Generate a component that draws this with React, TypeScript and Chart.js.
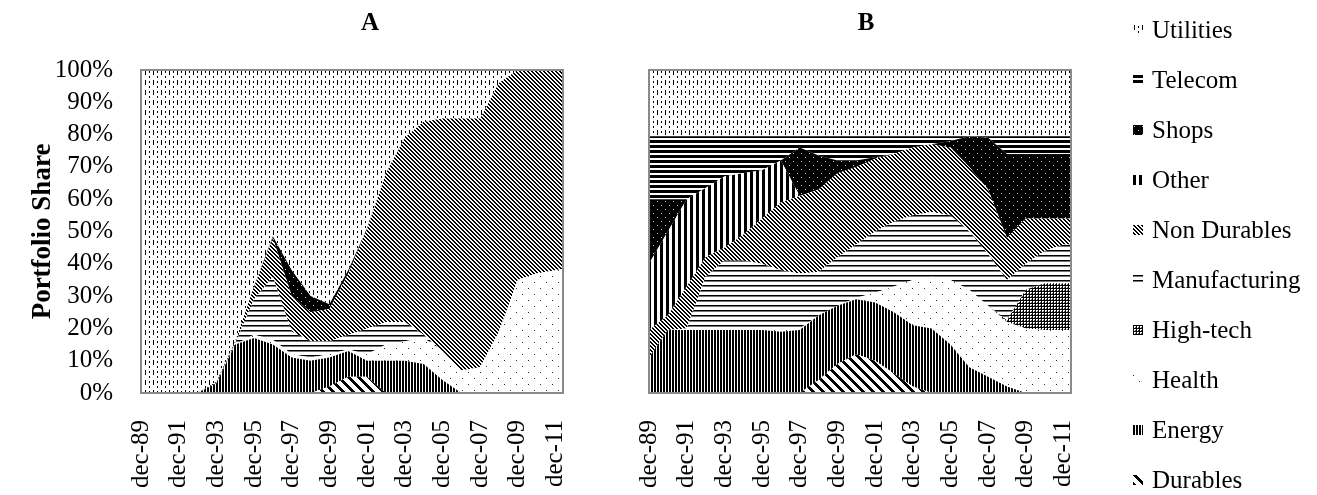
import React, { useEffect, useRef } from "react";
import { Chart, registerables } from "chart.js";
Chart.register(...registerables);

// ---------- data ----------
const tickLabels = ["dec-89", "dec-91", "dec-93", "dec-95", "dec-97", "dec-99", "dec-01", "dec-03", "dec-05", "dec-07", "dec-09", "dec-11"];
// years since Dec 1989
const years = [0, 1, 2, 3, 4, 5, 6, 7, 8, 9, 10, 11, 12, 13, 14, 15, 16, 17, 18, 19, 20, 21, 22, 22.4];

// series, bottom of the stack first
const seriesNames = ["Durables", "Energy", "Health", "High-tech", "Manufacturing", "Non Durables", "Other", "Shops", "Telecom", "Utilities"];

// Panel A
const aDurables = [0, 0, 0, 0, 0, 0, 0, 0, 0, 0, 2, 5, 5, 0, 0, 0, 0, 0, 0, 0, 0, 0, 0, 0];
const aEnergy = [0, 0, 0, 0, 3, 15, 17, 15, 11, 10, 9, 8, 5, 10, 10, 9, 4, 0, 0, 0, 0, 0, 0, 0];
const aHealth = [0, 0, 0, 0, 0, 0, 1, 1.5, 1, 1, 1, 0.5, 2, 5, 6, 8, 9, 7, 8, 19, 35, 37, 38, 38.5];
const aHighTech = [0, 0, 0, 0, 0, 0, 0, 0, 0, 0, 0, 0, 0, 0, 0, 0, 0, 0, 0, 0, 0, 0, 0, 0];
const aManufacturing = [0, 0, 0, 0, 0, 0.5, 11, 19.5, 7, 5, 4, 4.5, 8, 7, 6, 1, 0, 0, 0, 0, 0, 0, 0, 0];
const aNonDurables = [0, 0, 0, 0, 0.5, 0.5, 4, 12, 11, 9, 10, 19, 31, 46, 57, 66, 72, 78, 77, 77, 65, 63, 62, 61.5];
const aOther = [0, 0, 0, 0, 0, 0, 0, 0, 0, 0, 0, 0, 0, 0, 0, 0, 0, 0, 0, 0, 0, 0, 0, 0];
const aShops = [0, 0, 0, 0, 0, 0, 0, 0.5, 8, 5, 1.5, 1, 0, 0, 0, 0, 0, 0, 0, 0, 0, 0, 0, 0];
const aTelecom = [0, 0, 0, 0, 0, 0, 0, 0, 0, 0, 0, 0, 0, 0, 0, 0, 0, 0, 0, 0, 0, 0, 0, 0];
const aUtilities = [100, 100, 100, 100, 96.5, 84, 67, 51.5, 62, 70, 72.5, 62, 49, 32, 21, 16, 15, 15, 15, 4, 0, 0, 0, 0];

// Panel B
const bDurables = [0, 0, 0, 0, 0, 0, 0, 0, 0, 4, 9, 12, 10, 6, 2, 0, 0, 0, 0, 0, 0, 0, 0, 0];
const bEnergy = [11, 19.5, 19.5, 19.5, 19.5, 19.5, 19.5, 19, 19.5, 20, 18, 17, 18, 19, 19, 20, 15, 8, 5, 2, 0, 0, 0, 0];
const bHealth = [0, 0, 0, 0, 0, 0, 0, 0.5, 0.5, 0, 0, 0.5, 3, 8, 14, 16, 20, 24, 22, 20, 20, 19.5, 19.5, 19.5];
const bHighTech = [0, 0, 0, 0, 0, 0, 0, 0, 0, 0, 0, 0, 0, 0, 0, 0, 0, 0, 0, 0.5, 12, 14.5, 14.5, 14.5];
const bManufacturing = [0, 0, 0.5, 16.5, 21.5, 21.5, 20.5, 18.5, 17, 13.5, 15, 16.5, 19, 20, 20, 20, 20, 18, 16, 12.5, 8, 10, 12, 12];
const bNonDurables = [8.5, 4.5, 13, 6, 4, 8, 14, 21, 24, 25.5, 26, 24, 22.5, 21, 21, 21, 21, 20, 20, 13, 14, 10, 8, 8];
const bOther = [20.5, 26, 27, 21.5, 22, 19, 15, 13, 0, 0, 0, 0, 0, 0, 0, 0, 0, 0, 0, 0, 0, 0, 0, 0];
const bShops = [20, 10, 0, 0, 0, 0, 0, 0, 15, 10.5, 4, 2, 0.5, 0, 0, 0, 2, 9.5, 16, 26, 20, 20, 20, 20];
const bTelecom = [19.5, 19.5, 19.5, 16, 12.5, 11.5, 10.5, 7.5, 3.5, 6, 7.5, 7.5, 6.5, 5.5, 3.5, 2.5, 1.5, 0, 0.5, 5.5, 5.5, 5.5, 5.5, 5.5];
const bUtilities = [20.5, 20.5, 20.5, 20.5, 20.5, 20.5, 20.5, 20.5, 20.5, 20.5, 20.5, 20.5, 20.5, 20.5, 20.5, 20.5, 20.5, 20.5, 20.5, 20.5, 20.5, 20.5, 20.5, 20.5];

const panelA = [aDurables, aEnergy, aHealth, aHighTech, aManufacturing, aNonDurables, aOther, aShops, aTelecom, aUtilities];
const panelB = [bDurables, bEnergy, bHealth, bHighTech, bManufacturing, bNonDurables, bOther, bShops, bTelecom, bUtilities];

const FONT = "'Liberation Serif', 'Times New Roman', serif";

// ---------- patterns ----------
function makeTile(name: string): HTMLCanvasElement {
  const c = document.createElement("canvas");
  const sizes: Record<string, [number, number]> = {
    "Utilities": [8, 10], "Telecom": [4, 5], "Shops": [8, 8], "Other": [6, 4],
    "Non Durables": [4, 4], "Manufacturing": [4, 5], "High-tech": [3, 3],
    "Health": [12, 12], "Energy": [3, 2], "Durables": [10, 10],
  };
  const [w, h] = sizes[name];
  c.width = w; c.height = h;
  const g = c.getContext("2d")!;
  g.fillStyle = "#fff";
  g.fillRect(0, 0, w, h);
  g.fillStyle = "#000";
  const diag = (s: number, k: number) => {
    for (let y = 0; y < s; y++) for (let x = 0; x < s; x++) {
      if ((((x - y) % s) + s) % s < k) g.fillRect(x, y, 1, 1);
    }
  };
  switch (name) {
    case "Utilities":
      g.fillRect(1, 0, 1, 5);
      g.fillRect(5, 1, 1, 2); g.fillRect(5, 6, 1, 2);
      break;
    case "Telecom": g.fillRect(0, 0, 4, 3); break;
    case "Shops":
      g.fillRect(0, 0, 8, 8); g.fillStyle = "#ccc";
      g.fillRect(1, 1, 1, 1); g.fillRect(5, 5, 1, 1); break;
    case "Other": g.fillRect(0, 0, 3, 4); break;
    case "Non Durables": diag(4, 2); break;
    case "Manufacturing": g.fillRect(0, 0, 4, 1); g.fillStyle = "#777"; g.fillRect(0, 1, 4, 1); break;
    case "High-tech": g.fillRect(0, 0, 3, 1); g.fillRect(0, 0, 1, 3); g.fillStyle = "#555"; g.fillRect(2, 2, 1, 1); break;
    case "Health": g.fillStyle = "#333"; g.fillRect(0, 0, 1, 1); g.fillRect(6, 6, 1, 1); break;
    case "Energy": g.fillRect(0, 0, 2, 2); break;
    case "Durables": diag(10, 4); break;
  }
  return c;
}

function pattern(ctx: CanvasRenderingContext2D, name: string): CanvasPattern {
  return ctx.createPattern(makeTile(name), "repeat")!;
}

const framePlugin = {
  id: "frame",
  afterDatasetsDraw(chart: any) {
    const { ctx, chartArea } = chart;
    ctx.save();
    ctx.strokeStyle = "#8a8a8a";
    ctx.lineWidth = 2;
    ctx.strokeRect(chartArea.left, chartArea.top, chartArea.right - chartArea.left, chartArea.bottom - chartArea.top);
    ctx.restore();
  },
};

function buildConfig(ctx: CanvasRenderingContext2D, values: number[][], showY: boolean, padLeft: number, padRight: number): any {
  const datasets = seriesNames.map((name, i) => ({
    label: name,
    data: years.map((x, k) => ({ x, y: values[i][k] })),
    backgroundColor: pattern(ctx, name),
    borderColor: "rgba(0,0,0,0)",
    borderWidth: 0,
    pointRadius: 0,
    fill: i === 0 ? "origin" : "-1",
    tension: 0,
  }));
  return {
    type: "line",
    data: { datasets },
    plugins: [framePlugin],
    options: {
      responsive: false,
      animation: false,
      events: [],
      layout: { padding: { left: padLeft, right: padRight, top: 70, bottom: 0 } },
      plugins: {
        legend: { display: false },
        tooltip: { enabled: false },
        title: { display: false },
      },
      scales: {
        x: {
          type: "linear", min: 0, max: 22.4,
          grid: { display: false, drawTicks: false },
          border: { display: false },
          ticks: {
            stepSize: 2, includeBounds: false, autoSkip: false,
            minRotation: 90, maxRotation: 90, padding: 27, color: "#000",
            font: { family: FONT, size: 25 },
            callback: (v: number) => tickLabels[Math.round(v / 2)] ?? "",
          },
          afterFit: (s: any) => { s.height = 102; },
        },
        y: {
          stacked: true, min: 0, max: 100, display: showY,
          grid: { display: false, drawTicks: false },
          border: { display: false },
          ticks: {
            stepSize: 10, padding: 28, color: "#000", autoSkip: false,
            font: { family: FONT, size: 25 },
            callback: (v: number) => v + "%",
          },
          title: {
            display: true, text: "Portfolio Share", color: "#000",
            font: { family: FONT, size: 27, weight: "bold" },
            padding: { top: 27, bottom: 0 },
          },
          afterFit: (s: any) => { s.width = showY ? 141 : 0; },
        },
      },
    },
  };
}

const titleStyle = (cx: number): React.CSSProperties => ({
  position: "absolute", left: cx - 50, width: 100, top: 7, height: 30, lineHeight: "30px",
  textAlign: "center", fontFamily: FONT, fontSize: 25, fontWeight: "bold", color: "#000",
});

export default function App() {
  const refA = useRef<HTMLCanvasElement>(null);
  const refB = useRef<HTMLCanvasElement>(null);
  const swatchRefs = useRef<(HTMLCanvasElement | null)[]>([]);
  const legendOrder = [...seriesNames].reverse();

  useEffect(() => {
    const ctxA = refA.current!.getContext("2d")!;
    const ctxB = refB.current!.getContext("2d")!;
    const chartA = new Chart(ctxA, buildConfig(ctxA, panelA, true, 0, 177));
    const chartB = new Chart(ctxB, buildConfig(ctxB, panelB, false, 49, 61));
    legendOrder.forEach((name, k) => {
      const c = swatchRefs.current[k];
      if (!c) return;
      const g = c.getContext("2d")!;
      g.clearRect(0, 0, c.width, c.height);
      g.fillStyle = pattern(g, name);
      g.fillRect(0, 0, c.width, c.height);
    });
    return () => { chartA.destroy(); chartB.destroy(); };
  }, []);

  return (
    <div style={{ position: "absolute", left: 0, top: 0, width: 1317, height: 495, background: "#fff", overflow: "hidden" }}>
      <canvas ref={refA} width={740} height={495} style={{ position: "absolute", left: 0, top: 0 }} />
      <canvas ref={refB} width={532} height={495} style={{ position: "absolute", left: 600, top: 0 }} />
      <div style={titleStyle(370)}>A</div>
      <div style={titleStyle(866)}>B</div>
      {legendOrder.map((name, k) => (
        <div key={name} style={{
          position: "absolute", left: 1133, top: 30 + 50 * k - 15, height: 30,
          display: "flex", alignItems: "center", fontFamily: FONT, fontSize: 25,
          whiteSpace: "nowrap", color: "#000",
        }}>
          <canvas ref={(el) => { swatchRefs.current[k] = el; }} width={10} height={10} style={{ marginRight: 9, display: "block" }} />
          <span>{name}</span>
        </div>
      ))}
    </div>
  );
}
